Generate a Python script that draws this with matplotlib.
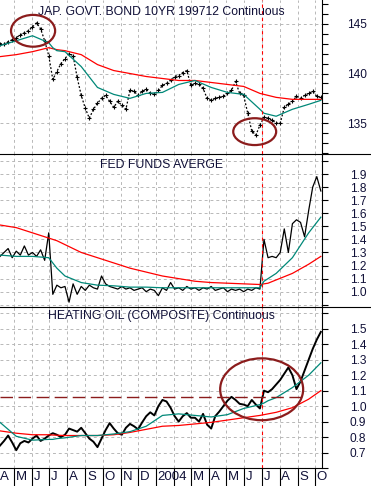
import numpy as np
import pandas as pd
import matplotlib
matplotlib.use("Agg")
import matplotlib.pyplot as plt
import matplotlib.dates as mdates
from matplotlib.patches import Ellipse
from matplotlib.lines import Line2D

plt.rcParams['font.family'] = ['Liberation Sans', 'DejaVu Sans']

# weekly closes, starting 2003-04-07
weeks = pd.date_range('2003-04-07', periods=80, freq='7D')

jgb = [143.0, 143.0, 143.2, 143.4, 143.6, 143.9, 144.1, 144.3, 144.7, 145.1,
       144.5, 143.3, 141.8, 139.4, 140.2, 141.0, 141.5, 142.0, 141.8, 139.6,
       137.8, 136.5, 135.5, 136.4, 137.0, 137.5, 137.8, 137.2, 136.6, 137.2,
       136.8, 136.4, 138.3, 138.2, 137.8, 138.2, 138.4, 138.0, 137.9, 138.3,
       138.8, 139.0, 139.3, 139.7, 139.8, 140.1, 140.3, 138.8, 139.0, 138.9,
       138.5, 137.5, 137.3, 137.5, 137.6, 137.7, 138.0, 138.3, 139.2, 138.0,
       137.8, 136.0, 134.2, 133.8, 134.8, 135.6, 135.5, 135.3, 135.0, 135.0,
       136.6, 136.9, 137.2, 137.7, 137.5, 137.8, 138.0, 138.2, 137.7, 137.6]

fedfunds = [1.27, 1.30, 1.33, 1.26, 1.31, 1.28, 1.35, 1.28, 1.30, 1.27,
            1.32, 1.24, 1.45, 0.98, 1.05, 1.03, 1.04, 0.92, 1.06, 0.98,
            1.04, 1.01, 1.05, 1.03, 1.02, 1.12, 1.06, 1.04, 1.03, 1.02,
            1.04, 1.02, 1.03, 1.01, 1.02, 1.03, 1.00, 1.02, 1.01, 0.97,
            1.03, 1.01, 1.07, 1.02, 1.03, 1.01, 1.04, 1.02, 1.03, 1.01,
            1.03, 1.02, 1.04, 1.01, 1.02, 1.03, 1.00, 1.02, 1.01, 1.02,
            1.00, 1.02, 1.01, 1.03, 1.02, 1.40, 1.26, 1.27, 1.26, 1.30,
            1.48, 1.30, 1.52, 1.55, 1.53, 1.42, 1.62, 1.80, 1.88, 1.77]

heating = [0.745, 0.775, 0.81, 0.765, 0.715, 0.76, 0.775, 0.765, 0.79, 0.81,
           0.775, 0.79, 0.81, 0.825, 0.815, 0.80, 0.815, 0.855, 0.845, 0.835,
           0.86, 0.825, 0.79, 0.77, 0.735, 0.79, 0.845, 0.89, 0.855, 0.825,
           0.815, 0.86, 0.885, 0.87, 0.85, 0.895, 0.935, 0.96, 0.94, 1.0,
           1.04, 1.03, 0.99, 0.935, 0.90, 0.935, 0.955, 0.925, 0.925, 0.90,
           0.95, 0.88, 0.855, 0.935, 0.965, 1.0, 1.035, 1.06, 1.04, 1.015,
           1.01, 1.0, 1.04, 1.01, 0.985, 1.10, 1.09, 1.11, 1.14, 1.17,
           1.21, 1.25, 1.20, 1.11, 1.16, 1.23, 1.30, 1.37, 1.43, 1.48]

# moving averages, read at these week numbers
ma_idx = [0, 4, 8, 12, 13, 14, 16, 20, 24, 28, 32, 36, 40, 44, 48, 52, 56, 60,
          64, 65, 66, 68, 72, 76, 79]
jgb_short = [142.8, 143.3, 143.8, 143.1, 142.6, 142.3, 142.2, 140.7, 138.6, 137.9,
             137.5, 138.0, 138.1, 138.9, 139.3, 138.6, 138.1, 137.9, 136.4, 136.0,
             135.9, 135.7, 136.4, 136.9, 137.3]
jgb_long = [141.7, 141.9, 142.2, 142.6, 142.5, 142.4, 142.3, 141.9, 140.9, 140.3,
            140.0, 139.7, 139.5, 139.3, 139.3, 139.1, 138.9, 138.7, 138.0, 137.9,
            137.8, 137.6, 137.4, 137.4, 137.4]
ff_short = [1.28, 1.27, 1.27, 1.26, 1.22, 1.18, 1.12, 1.07, 1.05, 1.045,
            1.035, 1.035, 1.03, 1.03, 1.03, 1.03, 1.03, 1.03, 1.03, 1.08,
            1.10, 1.14, 1.26, 1.45, 1.57]
ff_long = [1.51, 1.49, 1.45, 1.41, 1.40, 1.39, 1.36, 1.30, 1.26, 1.22,
           1.18, 1.15, 1.12, 1.10, 1.08, 1.07, 1.065, 1.06, 1.055, 1.06,
           1.065, 1.09, 1.14, 1.21, 1.27]
ho_short = [0.895, 0.805, 0.78, 0.785, 0.785, 0.79, 0.795, 0.81, 0.81, 0.82,
            0.835, 0.87, 0.94, 0.95, 0.94, 0.93, 0.945, 0.985, 1.01, 1.02,
            1.035, 1.055, 1.12, 1.20, 1.28]
ho_long = [0.84, 0.825, 0.815, 0.815, 0.813, 0.812, 0.81, 0.81, 0.81, 0.815,
           0.83, 0.85, 0.87, 0.875, 0.885, 0.895, 0.91, 0.925, 0.94, 0.945,
           0.95, 0.96, 0.99, 1.045, 1.10]

titles = ["JAP. GOVT. BOND 10YR 199712 Continuous", "FED FUNDS AVERGE",
          "HEATING OIL (COMPOSITE) Continuous"]

top_ticks = [135, 140, 145]
mid_ticks = [0.9, 1.0, 1.1, 1.2, 1.3, 1.4, 1.5, 1.6, 1.7, 1.8, 1.9, 2.0]
mid_labels = ['', '1.0', '1.1', '1.2', '1.3', '1.4', '1.5', '1.6', '1.7', '1.8', '1.9', '']
bot_ticks = [0.6, 0.7, 0.8, 0.9, 1.0, 1.1, 1.2, 1.3, 1.4, 1.5, 1.6]
bot_labels = ['', '0.7', '0.8', '0.9', '1.0', '1.1', '1.2', '1.3', '1.4', '1.5', '']

x0 = pd.Timestamp('2003-04-07')
x1 = pd.Timestamp('2004-10-13')
fed_hike = pd.Timestamp('2004-07-01')
months = pd.date_range('2003-05-01', '2004-10-01', freq='MS')

teal = '#008878'
maroon = '#8b1c1c'
txt = '#101038'
grid_kw = dict(color='#b8b8b8', lw=0.7, ls=(0, (3, 3)))

fig = plt.figure(figsize=(3.71, 4.86), dpi=100)
W = 322 / 371
ax1 = fig.add_axes([0, 1 - 154/486, W, 154/486])
ax2 = fig.add_axes([0, 1 - 307/486, W, 153/486])
ax3 = fig.add_axes([0, 1 - 468/486, W, 161/486])

ma_dates = weeks[ma_idx]

ax1.plot(weeks, jgb, color='black', lw=0.9, ls=(0, (1.5, 1.5)))
ax1.plot(weeks, jgb, '+', color='black', ms=3, mew=0.8)
ax1.plot(ma_dates, jgb_long, color='red', lw=0.9)
ax1.plot(ma_dates, jgb_short, color=teal, lw=0.9)

ax2.plot(weeks, fedfunds, color='black', lw=0.9)
ax2.plot(ma_dates, ff_long, color='red', lw=0.9)
ax2.plot(ma_dates, ff_short, color=teal, lw=0.9)

ax3.plot(weeks, heating, color='black', lw=1.4)
ax3.plot(ma_dates, ho_long, color='red', lw=0.9)
ax3.plot(ma_dates, ho_short, color=teal, lw=0.9)
ax3.hlines(1.06, x0, pd.Timestamp('2004-09-09'), color=maroon, lw=1.0, ls=(0, (9, 4)))

# circles drawn on the chart
def circle(ax, center, y, width_days, height):
    ax.add_patch(Ellipse((mdates.date2num(pd.Timestamp(center)), y), width_days, height,
                         fill=False, ec=maroon, lw=1.6, zorder=5))

circle(ax1, '2003-06-03', 144.3, 76, 3.2)
circle(ax1, '2004-06-19', 134.15, 74, 2.7)
circle(ax3, '2004-07-01', 1.109, 143, 0.40)

limits = [(131.9, 147.4), (0.883, 2.053), (0.61, 1.641)]
for ax, lim, title, ty in zip([ax1, ax2, ax3], limits, titles, [0.922, 0.928, 0.944]):
    ax.set_xlim(x0, x1)
    ax.set_ylim(*lim)
    ax.axvline(fed_hike, color='red', lw=0.8, ls=(0, (3, 3)))
    ax.set_xticks(months)
    ax.grid(axis='x', which='major', **grid_kw)
    ax.grid(axis='y', which='major', **grid_kw)
    ax.yaxis.tick_right()
    ax.tick_params(axis='y', which='both', direction='out', length=4, width=0.8,
                   pad=28, labelsize=8.6, labelcolor=txt)
    for s in ['top', 'left', 'bottom']:
        ax.spines[s].set_visible(False)
    ax.spines['right'].set_linewidth(0.8)
    ax.text(0.5, ty, title, transform=ax.transAxes, ha='center', va='center',
            fontsize=8.8, color=txt)

ax1.set_yticks(top_ticks)
ax1.set_yticks(np.arange(132, 148), minor=True)
ax2.set_yticks(mid_ticks, mid_labels)
ax3.set_yticks(bot_ticks, bot_labels)
for ax in [ax1, ax2, ax3]:
    for lbl in ax.get_yticklabels():
        lbl.set_horizontalalignment('right')

for ax in [ax1, ax2]:
    ax.tick_params(axis='x', which='both', length=0, labelbottom=False)

# month separators and labels on the bottom panel
ax3.spines['bottom'].set_visible(True)
ax3.spines['bottom'].set_linewidth(0.8)
ax3.tick_params(axis='x', which='major', direction='out', length=14, width=0.8,
                labelbottom=False)
label_pos = [x0] + [m + pd.Timedelta(days=3) for m in months]
label_txt = ['A'] + ['2004' if (m.month == 1) else ('' if m.month == 2 else m.strftime('%b')[0])
                     for m in months]
ax3.set_xticks(label_pos, label_txt, minor=True)
ax3.tick_params(axis='x', which='minor', length=0, pad=2, labelsize=9.5, labelcolor=txt)
for lbl in ax3.get_xticklabels(minor=True):
    lbl.set_horizontalalignment('left')

# panel separators run across the full width
for yy in [1 - 154/486, 1 - 307/486]:
    fig.add_artist(Line2D([0, 1], [yy, yy], color='black', lw=0.8))

fig.savefig('out.png', dpi=100)
